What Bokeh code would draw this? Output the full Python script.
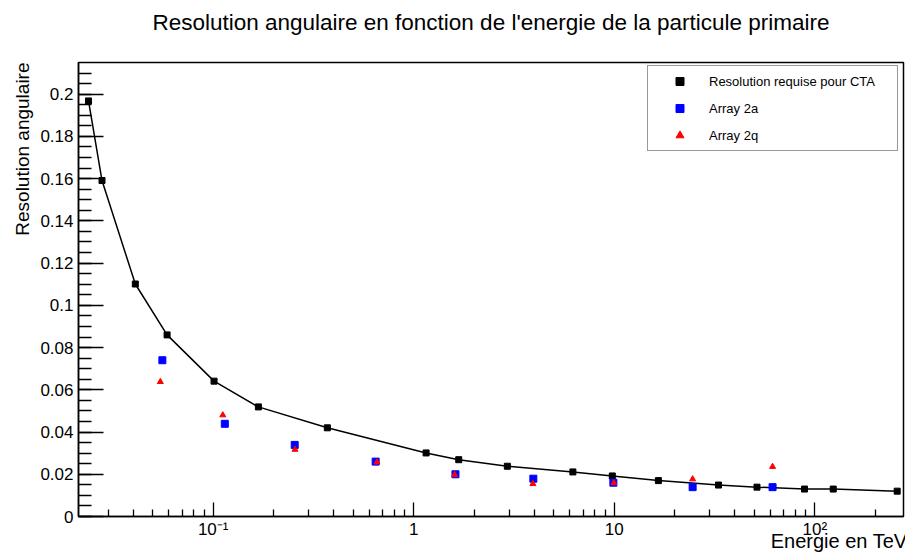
from bokeh.plotting import figure
from bokeh.models import (FixedTicker, SingleIntervalTicker, CustomJSTickFormatter,
                          Title, Legend, LegendItem, Range1d)
from bokeh.embed import file_html
from bokeh.resources import INLINE

# ---- data ----
energy_cta = [0.0239, 0.0279, 0.0409, 0.0589, 0.101, 0.168, 0.371, 1.153, 1.677,
              2.93, 6.22, 9.78, 16.6, 33.1, 51.5, 88.9, 123.6, 257.6]
res_cta = [0.1968, 0.1591, 0.1101, 0.0860, 0.0641, 0.0519, 0.0420, 0.0301, 0.0269,
           0.0238, 0.0211, 0.0192, 0.0170, 0.0149, 0.0139, 0.0130, 0.0130, 0.0120]

energy_2a = [0.0558, 0.1143, 0.255, 0.646, 1.615, 3.95, 9.9, 24.6, 61.6]
res_2a = [0.0740, 0.0439, 0.0339, 0.0260, 0.0200, 0.0179, 0.0160, 0.0139, 0.0139]

energy_2q = [0.0545, 0.1117, 0.256, 0.656, 1.60, 3.93, 9.95, 24.6, 61.6]
res_2q = [0.0638, 0.0480, 0.0317, 0.0257, 0.0198, 0.0155, 0.0159, 0.0177, 0.0236]

x_tick_values = [0.1, 1, 10, 100]
x_tick_labels = ["10\u207b\u00b9", "1", "10", "10\u00b2"]

series_names = ["Resolution requise pour CTA", "Array 2a", "Array 2q"]
title_text = "Resolution angulaire en fonction de l'energie de la particule primaire"
x_title = "Energie en TeV"
y_title = "Resolution angulaire"

FONT = "Liberation Sans"

p = figure(width=905, height=554, x_axis_type="log",
           x_range=Range1d(0.0213, 277), y_range=Range1d(0, 0.215),
           output_backend="svg", toolbar_location=None, title_location=None,
           min_border_left=78, min_border_right=2, min_border_top=62,
           min_border_bottom=38)

# spacer between frame and main title, then the main title
p.add_layout(Title(text=" ", text_font=FONT, text_font_size="10px",
                   standoff=13), "above")
p.add_layout(Title(text=title_text, align="center", vertical_align="top",
                   text_font=FONT, text_font_size="22.5px",
                   text_font_style="normal", text_color="black",
                   standoff=0), "above")

p.xgrid.visible = False
p.ygrid.visible = False
p.outline_line_color = "black"
p.outline_line_width = 1.5
p.outline_line_alpha = 1.0

# x axis
minor_x = [m * 10.0 ** e for e in range(-2, 3) for m in range(2, 10)]
p.xaxis.ticker = FixedTicker(ticks=x_tick_values, minor_ticks=minor_x)
p.xaxis.formatter = CustomJSTickFormatter(
    args=dict(vals=x_tick_values, labels=x_tick_labels),
    code="""
    for (let i = 0; i < vals.length; i++) {
        if (Math.abs(Math.log10(tick) - Math.log10(vals[i])) < 1e-6) return labels[i];
    }
    return '';
    """)
p.xaxis.major_tick_in = 14
p.xaxis.major_tick_out = 0
p.xaxis.minor_tick_in = 7
p.xaxis.minor_tick_out = 0
p.xaxis.major_label_standoff = 3

# y axis
p.yaxis.ticker = SingleIntervalTicker(interval=0.02, num_minor_ticks=4)
p.yaxis.formatter = CustomJSTickFormatter(code="""
    let s = tick.toFixed(2);
    s = s.replace(/0+$/, '').replace(/\\.$/, '');
    return s;
""")
p.yaxis.major_tick_in = 25
p.yaxis.major_tick_out = 0
p.yaxis.minor_tick_in = 13
p.yaxis.minor_tick_out = 0
p.yaxis.major_label_standoff = 5

for ax in (p.xaxis[0], p.yaxis[0]):
    ax.axis_line_color = "black"
    ax.axis_line_width = 1.5
    ax.major_tick_line_color = "black"
    ax.major_tick_line_width = 1.3
    ax.minor_tick_line_color = "black"
    ax.minor_tick_line_width = 1.3
    ax.major_label_text_font = FONT
    ax.major_label_text_font_size = "17px"
    ax.major_label_text_color = "black"

# y axis title (top aligned, like ROOT)
p.add_layout(Title(text=y_title, align="right", text_font=FONT,
                   text_font_size="19px", text_font_style="normal",
                   text_color="black", standoff=10), "left")

# x axis title at bottom right
p.add_layout(Title(text=x_title, align="right", vertical_align="top",
                   text_font=FONT, text_font_size="20px", text_font_style="normal",
                   text_color="black", standoff=-24, offset=-4), "below")

# data
r_line = p.line(energy_cta, res_cta, line_color="black", line_width=1.5)
r_cta = p.scatter(energy_cta, res_cta, marker="square", size=6,
                  fill_color="black", line_color="black")
r_2a = p.scatter(energy_2a, res_2a, marker="square", size=7,
                 fill_color="blue", line_color="blue")
r_2q = p.scatter(energy_2q, res_2q, marker="triangle", size=6,
                 fill_color="red", line_color="red")

legend = Legend(items=[LegendItem(label=series_names[0], renderers=[r_cta]),
                       LegendItem(label=series_names[1], renderers=[r_2a]),
                       LegendItem(label=series_names[2], renderers=[r_2q])],
                location=(569, 365), padding=5, spacing=7,
                glyph_width=53, glyph_height=20, label_standoff=3,
                label_width=183, label_height=20,
                label_text_font=FONT, label_text_font_size="13px",
                label_text_color="black",
                border_line_color="#333333", border_line_width=1.5,
                background_fill_color="white", background_fill_alpha=1.0)
p.add_layout(legend, "center")

open("out.html", "w").write(file_html(p, INLINE))
